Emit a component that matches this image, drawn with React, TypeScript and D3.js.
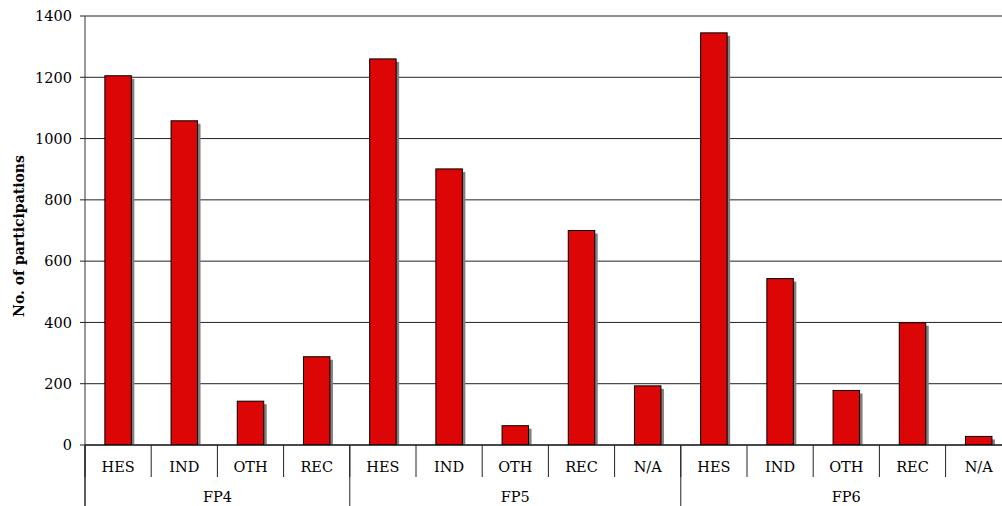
import React from "react";
import * as d3 from "d3";

const programmes = ["FP4", "FP5", "FP6"];
const fp4Types = ["HES", "IND", "OTH", "REC"];
const fp4Values = [1205, 1058, 143, 288];
const fp5Types = ["HES", "IND", "OTH", "REC", "N/A"];
const fp5Values = [1260, 901, 63, 700, 193];
const fp6Types = ["HES", "IND", "OTH", "REC", "N/A"];
const fp6Values = [1345, 543, 178, 399, 28];
const yTicks = [0, 200, 400, 600, 800, 1000, 1200, 1400];
const yLabel = "No. of participations";

const W = 1002;
const H = 506;
const left = 85;
const step = 66.2;
const top = 16;
const bottom = 445;
const FONT = "'DejaVu Serif', serif";

type Row = { key: string; prog: string; type: string; value: number };

export default function App() {
  const groupTypes = [fp4Types, fp5Types, fp6Types];
  const groupValues = [fp4Values, fp5Values, fp6Values];
  const rows: Row[] = [];
  programmes.forEach((p, gi) => {
    groupTypes[gi].forEach((t, i) => {
      rows.push({ key: p + "|" + t, prog: p, type: t, value: groupValues[gi][i] });
    });
  });

  const x = d3
    .scaleBand<string>()
    .domain(rows.map((r) => r.key))
    .range([left, left + step * rows.length])
    .paddingInner(0.6)
    .paddingOuter(0.3);
  const xCat = d3
    .scaleBand<string>()
    .domain(rows.map((r) => r.key))
    .range([left, left + step * rows.length])
    .padding(0);
  const y = d3.scaleLinear().domain([0, 1400]).range([bottom, top]);

  // group boundaries
  const groupBounds: { prog: string; x0: number; x1: number }[] = [];
  let idx = 0;
  programmes.forEach((p, gi) => {
    const n = groupTypes[gi].length;
    const x0 = xCat(rows[idx].key)!;
    const x1 = xCat(rows[idx + n - 1].key)! + xCat.bandwidth();
    groupBounds.push({ prog: p, x0, x1 });
    idx += n;
  });

  const bw = x.bandwidth();

  return (
    <svg width={W} height={H} style={{ position: "absolute", left: 0, top: 0, background: "#fff" }}>
      <style>{`body{margin:0}`}</style>
      <defs>
        <clipPath id="plotclip">
          <rect x={left} y={0} width={W - left} height={bottom} />
        </clipPath>
      </defs>
      {/* gridlines */}
      {yTicks.map((t) => (
        <line key={"g" + t} x1={left - 5} x2={W} y1={y(t)} y2={y(t)} stroke="#222" strokeWidth={1} />
      ))}
      {/* y tick labels */}
      {yTicks.map((t) => (
        <text
          key={"t" + t}
          x={72}
          y={y(t)}
          dy="0.36em"
          textAnchor="end"
          fontFamily={FONT}
          fontSize={14.5}
          fill="#000"
        >
          {t}
        </text>
      ))}
      {/* y label */}
      <text
        transform={`translate(24, 236) rotate(-90)`}
        textAnchor="middle"
        fontFamily={FONT}
        fontSize={14}
        fontWeight="bold"
        fill="#000"
      >
        {yLabel}
      </text>
      {/* bars */}
      <g clipPath="url(#plotclip)">
        {rows.map((r) => (
          <rect
            key={"s" + r.key}
            x={x(r.key)! + 3}
            y={y(r.value) + 3}
            width={bw}
            height={bottom - y(r.value)}
            fill="#808080"
          />
        ))}
        {rows.map((r) => (
          <rect
            key={"b" + r.key}
            x={x(r.key)!}
            y={y(r.value)}
            width={bw}
            height={bottom - y(r.value)}
            fill="#dd0606"
            stroke="#000"
            strokeWidth={1}
          />
        ))}
      </g>
      {/* axes */}
      <line x1={left} x2={left} y1={top} y2={H} stroke="#333" strokeWidth={1} />
      <line x1={left} x2={W} y1={bottom} y2={bottom} stroke="#000" strokeWidth={1} />
      {/* category separators */}
      {rows.map((r) => {
        const xs = xCat(r.key)!;
        return <line key={"sep" + r.key} x1={xs} x2={xs} y1={bottom} y2={477} stroke="#222" strokeWidth={1} />;
      })}
      {/* group separators */}
      {groupBounds.map((g) => (
        <line key={"gs" + g.prog} x1={g.x0} x2={g.x0} y1={bottom} y2={H} stroke="#222" strokeWidth={1} />
      ))}
      {/* category labels */}
      {rows.map((r) => (
        <text
          key={"cl" + r.key}
          x={xCat(r.key)! + xCat.bandwidth() / 2}
          y={467}
          dy="0.36em"
          textAnchor="middle"
          fontFamily={FONT}
          fontSize={14.5}
          fill="#000"
        >
          {r.type}
        </text>
      ))}
      {/* group labels */}
      {groupBounds.map((g) => (
        <text
          key={"gl" + g.prog}
          x={(g.x0 + g.x1) / 2}
          y={497}
          dy="0.36em"
          textAnchor="middle"
          fontFamily={FONT}
          fontSize={14.5}
          fill="#000"
        >
          {g.prog}
        </text>
      ))}
    </svg>
  );
}
